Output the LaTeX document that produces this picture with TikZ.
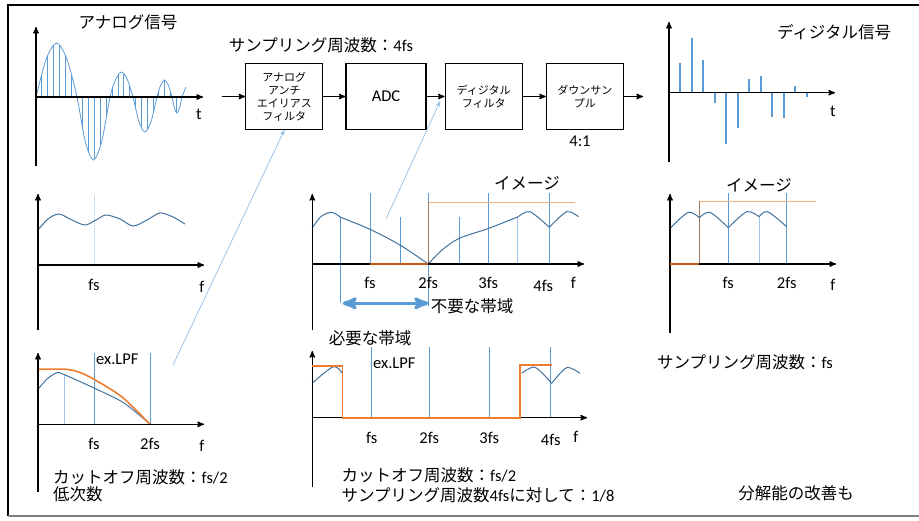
\documentclass[tikz,border=0pt]{standalone}
\usepackage{fontspec}
\setmainfont{Carlito}
\newfontfamily\jpfont{Noto Sans CJK JP}
\newcommand{\jp}[1]{{\jpfont #1}}
\usepackage{tikz}
\usetikzlibrary{positioning, arrows}
\definecolor{sigblue}{HTML}{5B9BD5}
\definecolor{curveblue}{HTML}{41719C}
\definecolor{paleblue}{HTML}{9DC3E6}
\definecolor{lpforange}{HTML}{ED7D31}
\definecolor{imgorange}{HTML}{F4B183}
\definecolor{stepbrown}{HTML}{A07862}
\definecolor{axisbrown}{HTML}{C55A11}
\tikzset{>=stealth',
axisline/.style={->, line width=1.3pt},
flow/.style={->, line width=1.3pt},
block/.style={draw, line width=1.2pt, minimum width=77pt, minimum height=66pt,
  align=center, inner sep=2pt, font=\fontsize{11}{13}\selectfont\jpfont},
sample/.style={sigblue, line width=0.8pt},
stem/.style={sigblue, line width=1.8pt},
vline/.style={sigblue, line width=1pt},
paleline/.style={paleblue, line width=1pt},
curve/.style={curveblue, line width=1pt},
pointer/.style={->, paleblue, line width=0.8pt},
lpf/.style={lpforange, line width=1.6pt},
%image/.style={imgorange, line width=1pt},
}

\begin{document}
\begin{tikzpicture}[x=1pt,y=-1pt,font=\fontsize{16.5}{19}\selectfont,inner sep=1pt]
\useasboundingbox (0,0) rectangle (919,520);
\draw[line width=2.8pt] (919,5) -- (8,5) -- (8,516);
\draw[gray, line width=1.5pt] (8,516) -- (919,516);

% analog signal
\node (ana) at (128,22) {\jp{アナログ信号}};
\begin{scope}
\clip plot[smooth] coordinates {(36,97) (46.25,58.8) (56.5,43) (66.75,58.8) (77,97)
  (85.25,141.5) (93.5,160) (101.75,141.5) (110,97) (115.75,79.3) (121.5,72) (127.25,79.3)
  (133,97) (139,121.7) (145,132) (151,121.7) (157,97) (160.75,85) (164.5,80) (168.25,85)
  (172,97) (174.5,108.3) (177,113) (179.5,108.3) (182,97) (186,87)} -- (186,97) -- cycle;
\foreach \k in {1,...,25} \draw[sample] (36+5.85*\k,20) -- (36+5.85*\k,180);
\end{scope}
\draw[sample] plot[smooth] coordinates {(36,97) (46.25,58.8) (56.5,43) (66.75,58.8) (77,97)
  (85.25,141.5) (93.5,160) (101.75,141.5) (110,97) (115.75,79.3) (121.5,72) (127.25,79.3)
  (133,97) (139,121.7) (145,132) (151,121.7) (157,97) (160.75,85) (164.5,80) (168.25,85)
  (172,97) (174.5,108.3) (177,113) (179.5,108.3) (182,97) (186,87)};
\draw[axisline] (36,166) -- (36,27);
\draw[axisline] (36,97) -- (203,97);
\node (t1) at (199,114) {t};

% signal chain
\node (fs4) at (321,45) {\jp{サンプリング周波数：}4fs};
\node[block] (aaf) at (284.3,96.5) {アナログ\\アンチ\\エイリアス\\フィルタ};
\node[block, right=22pt of aaf, minimum width=80pt, font=\fontsize{16.5}{19}\selectfont] (adc) {ADC};
\node[block, right=18pt of adc] (dfilt) {ディジタル\\フィルタ};
\node[block, right=23pt of dfilt] (down) {ダウンサン\\プル};
\node (ratio) at (580,141) {4:1};
\coordinate (in) at (221.7,96.5);
\coordinate (out) at (643,96.5);
\draw[flow] (in) -- (aaf);
\draw[flow] (aaf) -- (adc);
\draw[flow] (adc) -- (dfilt);
\draw[flow] (dfilt) -- (down);
\draw[flow] (down) -- (out);

% digital signal
\node (dig) at (834,32) {\jp{ディジタル信号}};
\foreach \x/\y in {680/63, 691.7/38, 702.7/60, 715/103, 726/144, 737.7/128,
  748.7/79, 760.7/76, 772/117, 783.7/118, 795/86, 806.7/97}
  \draw[stem] (\x,92.7) -- (\x,\y);
\draw[axisline] (669,162) -- (669,22);
\draw[axisline] (669,92.7) -- (835,92.7);
\node (t2) at (833,111) {t};

% analog spectrum
\draw[paleline, densely dotted] (94,195) -- (94,265);
\draw[curve] plot[smooth] coordinates {(38,230) (48,219) (59,214) (72,220) (85,225) (96,220)
  (106,215) (120,219) (133,226) (147,220) (160,213) (173,217) (185,224)};
\draw[axisline] (38,330) -- (38,194);
\draw[axisline] (38,265) -- (204,265);
\node (fsA) at (94,285) {fs};
\node (fA) at (202,287) {f};

% analog LPF
\draw[paleline] (64.3,374) -- (64.3,424.3);
\draw[vline] (94,353) -- (94,424.3);
\draw[vline] (150,353) -- (150,424.3);
\draw[curve] plot[smooth] coordinates {(38,389.3) (47,379) (57,372.7) (64,374.5) (94,388)
  (124,403) (150,424.3)};
\draw[lpf] plot[smooth] coordinates {(38,369.3) (66,369.3) (80,372.5) (94,379.3) (122,397)
  (150,424.3)};
\draw[axisline] (38,492) -- (38,353);
\draw[axisline] (38,424.3) -- (204,424.3);
\node[anchor=west] (lpfA) at (95,359) {ex.LPF};
\node (fsB) at (94,444) {fs};
\node (fsB2) at (150,444) {2fs};
\node (fB) at (202,446) {f};
\node[anchor=west] (cutA) at (52,477) {\jp{カットオフ周波数：}fs/2};
\node[anchor=west] (lowA) at (52,494) {\jp{低次数}};
\coordinate (lpfnote) at (173,365);
\draw[pointer] (lpfnote) -- (aaf.south);

% oversampled spectrum
\node (imgA) at (527,183) {\jp{イメージ}};
\foreach \x/\t in {370/193.3, 400.7/216.7, 459.3/216.7, 488.3/193.3, 549.3/193.3}
  \draw[vline] (\x,\t) -- (\x,264);
\draw[vline] (428.3,193.3) -- (428.3,306);
\draw[vline] (340.7,217.3) -- (340.7,303.3);
\draw[paleline] (517.3,216.7) -- (517.3,264);
\draw[imgorange, line width=1pt] (428.3,202.3) -- (575,202.3);
\draw[stepbrown, line width=1pt] (428.3,202.3) -- (428.3,264);
\draw[curve] plot[smooth] coordinates {(312,228.3) (321,216.5) (331.7,212.3) (340.7,217.3)};
\draw[curve] plot[smooth] coordinates {(340.7,217.3) (370,229.3) (400,245) (428.3,264)};
\draw[curve] plot[smooth] coordinates {(428.3,264) (442,250) (459.3,238.3) (488.3,228.5) (518.3,216.7)};
\draw[curve] plot[smooth] coordinates {(518.3,216.7) (530,211.7) (549.3,227.3)};
\draw[curve] plot[smooth] coordinates {(549.3,227.3) (566.7,211.7) (578.3,216.7)};
\draw[axisline] (312.3,330) -- (312.3,194);
\draw[axisline] (312.3,264) -- (584,264);
\draw[axisbrown, line width=1.3pt] (370,264) -- (428.3,264);
\node (fsC) at (370,283) {fs};
\node (fsC2) at (428.3,283) {2fs};
\node (fsC3) at (488.3,283) {3fs};
\node (fsC4) at (543.3,286) {4fs};
\node (fC) at (573.3,283) {f};
\coordinate (bandL) at (342.7,303.3);
\coordinate (bandR) at (428.3,303.3);
\draw[<->, sigblue, line width=3.5pt] (bandL) -- (bandR);
\node[anchor=west] (bad) at (429.7,306) {\jp{不要な帯域}};
\coordinate (imgnote) at (386,219);
\coordinate (hit) at (440,101.5);
\draw[pointer] (imgnote) -- (hit);

% digital LPF
\node (need) at (370,338) {\jp{必要な帯域}};
\foreach \x in {371.7,429.3,489.3,550.7} \draw[vline] (\x,346.7) -- (\x,417.7);
\draw[curve] plot[smooth] coordinates {(312,383.3) (333.3,366.7) (342.3,373.3)};
\draw[curve] plot[smooth] coordinates {(521.7,373.3) (535,367.3) (551.7,383.3)};
\draw[curve] plot[smooth] coordinates {(551.7,383.3) (566.7,367.7) (580,373.3)};
\draw[axisline] (312.3,487) -- (312.3,351);
\draw[axisline] (312.3,417.7) -- (587,417.7);
\draw[lpf] (312.3,366) -- (342.3,366) -- (342.3,417.7) -- (520,417.7) -- (520,365) -- (551.7,365);
\node[anchor=west] (lpfB) at (372,363) {ex.LPF};
\node (fsD) at (371.7,437.7) {fs};
\node (fsD2) at (429.3,437.7) {2fs};
\node (fsD3) at (489.3,437.7) {3fs};
\node (fsD4) at (550.7,440) {4fs};
\node (fD) at (576,437) {f};
\node[anchor=west] (cutB) at (340.5,475) {\jp{カットオフ周波数：}fs/2};
\node[anchor=west] (sampB) at (340.5,495) {\jp{サンプリング周波数}4fs\jp{に対して：}1/8};

% downsampled spectrum
\node (imgB) at (759,185) {\jp{イメージ}};
\draw[vline] (728.3,193.3) -- (728.3,264);
\draw[vline] (786.7,193.3) -- (786.7,264);
\draw[paleline] (759,216.7) -- (759,264);
\draw[imgorange, line width=1pt] (699.3,201) -- (816,201);
\draw[stepbrown, line width=1pt] (699.3,201) -- (699.3,264);
\draw[curve] plot[smooth] coordinates {(670,228.3) (688.3,212.3) (699.3,217.7)};
\draw[curve] plot[smooth] coordinates {(699.3,217.7) (710,212.3) (728.3,227.7)};
\draw[curve] plot[smooth] coordinates {(728.3,227.7) (746.7,211.7) (759,216.7)};
\draw[curve] plot[smooth] coordinates {(759,216.7) (767.7,211.7) (786.7,226.7)};
\draw[axisline] (670,333) -- (670,194);
\draw[axisline] (670,264) -- (836,264);
\draw[axisbrown, line width=2pt] (670,264) -- (699.3,264);
\node (fsE) at (728.3,283.3) {fs};
\node (fsE2) at (786.7,283.3) {2fs};
\node (fE) at (833,285) {f};
\node (fs1) at (745,362) {\jp{サンプリング周波数：}fs};
\node (res) at (796,493) {\jp{分解能の改善も}};
\end{tikzpicture}
\end{document}
